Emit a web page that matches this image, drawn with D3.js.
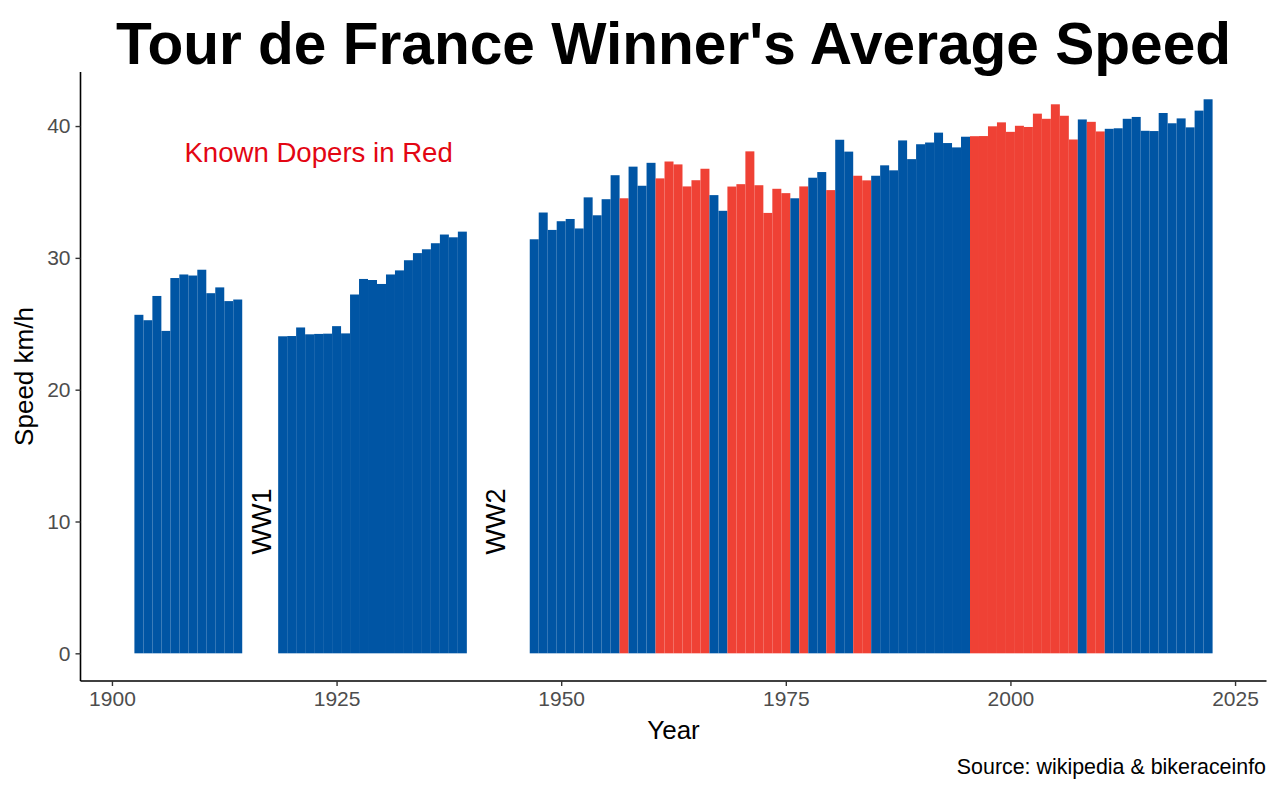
<!DOCTYPE html>
<html>
<head>
<meta charset="utf-8">
<script src="https://cdn.jsdelivr.net/npm/d3@7.9.0/dist/d3.min.js"></script>
<style>
  html, body { margin: 0; padding: 0; background: #fff; }
  svg { display: block; font-family: "Liberation Sans", Arial, Helvetica, sans-serif; }
</style>
</head>
<body>
<div id="chart"></div>
<script>
// ---------- data ----------
const years = [
  1903, 1904, 1905, 1906, 1907, 1908, 1909, 1910, 1911, 1912, 1913, 1914,
  1919, 1920, 1921, 1922, 1923, 1924, 1925, 1926, 1927, 1928, 1929, 1930,
  1931, 1932, 1933, 1934, 1935, 1936, 1937, 1938, 1939,
  1947, 1948, 1949, 1950, 1951, 1952, 1953, 1954, 1955, 1956, 1957, 1958,
  1959, 1960, 1961, 1962, 1963, 1964, 1965, 1966, 1967, 1968, 1969, 1970,
  1971, 1972, 1973, 1974, 1975, 1976, 1977, 1978, 1979, 1980, 1981, 1982,
  1983, 1984, 1985, 1986, 1987, 1988, 1989, 1990, 1991, 1992, 1993, 1994,
  1995, 1996, 1997, 1998, 1999, 2000, 2001, 2002, 2003, 2004, 2005, 2006,
  2007, 2008, 2009, 2010, 2011, 2012, 2013, 2014, 2015, 2016, 2017, 2018,
  2019, 2020, 2021, 2022
];
const speeds = [
  25.68, 25.27, 27.11, 24.46, 28.47, 28.74, 28.66, 29.10, 27.32, 27.76, 26.72, 26.84,
  24.05, 24.07, 24.72, 24.20, 24.23, 24.25, 24.82, 24.27, 27.22, 28.40, 28.32, 28.02,
  28.74, 29.05, 29.82, 30.36, 30.65, 31.11, 31.77, 31.56, 31.99,
  31.41, 33.44, 32.12, 32.78, 32.95, 32.23, 34.59, 33.23, 34.45, 36.27, 34.52, 36.92,
  35.47, 37.21, 36.03, 37.31, 37.09, 35.42, 35.89, 36.76, 34.76, 33.57, 35.41, 35.59,
  38.08, 35.51, 33.41, 35.24, 34.91, 34.52, 35.42, 36.08, 36.51, 35.14, 38.96, 38.06,
  36.23, 35.88, 36.23, 37.02, 36.64, 38.91, 37.49, 38.62, 38.75, 39.50, 38.71, 38.38,
  39.19, 39.23, 39.24, 39.98, 40.28, 39.56, 40.02, 39.93, 40.94, 40.55, 41.65, 40.78,
  38.98, 40.50, 40.32, 39.59, 39.79, 39.83, 40.55, 40.69, 39.64, 39.62, 40.99, 40.21,
  40.58, 39.90, 41.17, 42.03
];
// winners later found doping
const doperYears = [
  1957, 1961, 1962, 1963, 1964, 1965, 1966,
  1969, 1970, 1971, 1972, 1973, 1974, 1975, 1977, 1980, 1983, 1984,
  1996, 1997, 1998, 1999, 2000, 2001, 2002, 2003, 2004, 2005, 2006, 2007,
  2009, 2010
];
const xTicks = [1900, 1925, 1950, 1975, 2000, 2025];
const yTicks = [0, 10, 20, 30, 40];
const warLabels = [
  { label: 'WW1', year: 1916.6, speed: 10 },
  { label: 'WW2', year: 1942.7, speed: 10 }
];

const rows = years.map((y, i) => ({ year: y, speed: speeds[i], doper: doperYears.includes(y) }));

// ---------- layout ----------
const width = 1280, height = 791;
const panel = { left: 80.5, right: 1266.5, top: 72, bottom: 681 };
const BLUE = '#0055a4', RED = '#ef4135';

const svg = d3.select('#chart').append('svg')
  .attr('width', width)
  .attr('height', height);

const x = d3.scaleLinear().domain([1896.5, 2028.5]).range([panel.left, panel.right]);
const y = d3.scaleLinear().domain([-2.1, 44.1]).range([panel.bottom, panel.top]);

// ---------- bars ----------
svg.append('g')
  .selectAll('rect')
  .data(rows)
  .join('rect')
  .attr('x', d => x(d.year - 0.5))
  .attr('width', d => x(d.year + 0.5) - x(d.year - 0.5))
  .attr('y', d => y(d.speed))
  .attr('height', d => y(0) - y(d.speed))
  .attr('fill', d => d.doper ? RED : BLUE);

// ---------- axes ----------
const xAxis = svg.append('g')
  .attr('transform', `translate(0,${panel.bottom})`)
  .call(d3.axisBottom(x).tickValues(xTicks).tickFormat(d3.format('d')).tickSize(5).tickSizeOuter(0));
const yAxis = svg.append('g')
  .attr('transform', `translate(${panel.left},0)`)
  .call(d3.axisLeft(y).tickValues(yTicks).tickSize(5).tickSizeOuter(0));

[xAxis, yAxis].forEach(g => {
  g.select('.domain').attr('stroke', '#000').attr('stroke-width', 1.6);
  g.selectAll('.tick line').attr('stroke', '#333').attr('stroke-width', 1.4);
  g.selectAll('.tick text')
    .attr('fill', '#4d4d4d')
    .style('font-size', '21px')
    .style('font-family', '"Liberation Sans", Arial, sans-serif');
});
xAxis.selectAll('.tick text').attr('dy', '0.71em').attr('y', 10);
yAxis.selectAll('.tick text').attr('x', -10);

// the x axis line runs the full panel, the y axis too
xAxis.select('.domain').attr('d', `M${panel.left},0H${panel.right}`);
yAxis.select('.domain').attr('d', `M0,${panel.top}V${panel.bottom}`);

// ---------- annotations ----------
svg.append('text')
  .attr('x', x(1923))
  .attr('y', y(38))
  .attr('dy', '0.35em')
  .attr('text-anchor', 'middle')
  .attr('fill', '#e30613')
  .style('font-size', '27.6px')
  .text('Known Dopers in Red');

svg.append('g')
  .selectAll('text')
  .data(warLabels)
  .join('text')
  .attr('transform', d => `translate(${x(d.year)},${y(d.speed)}) rotate(-90)`)
  .attr('dy', '0.35em')
  .attr('text-anchor', 'middle')
  .attr('fill', '#000')
  .style('font-size', '27px')
  .text(d => d.label);

// ---------- titles ----------
svg.append('text')
  .attr('x', (panel.left + panel.right) / 2)
  .attr('y', 64)
  .attr('text-anchor', 'middle')
  .style('font-size', '58.6px')
  .style('font-weight', 'bold')
  .text("Tour de France Winner's Average Speed");

svg.append('text')
  .attr('x', (panel.left + panel.right) / 2)
  .attr('y', 739)
  .attr('text-anchor', 'middle')
  .style('font-size', '26px')
  .text('Year');

svg.append('text')
  .attr('transform', `translate(33,${(panel.top + panel.bottom) / 2}) rotate(-90)`)
  .attr('text-anchor', 'middle')
  .style('font-size', '26px')
  .text('Speed km/h');

svg.append('text')
  .attr('x', 1266)
  .attr('y', 774)
  .attr('text-anchor', 'end')
  .style('font-size', '21.4px')
  .text('Source: wikipedia & bikeraceinfo');
</script>
</body>
</html>
